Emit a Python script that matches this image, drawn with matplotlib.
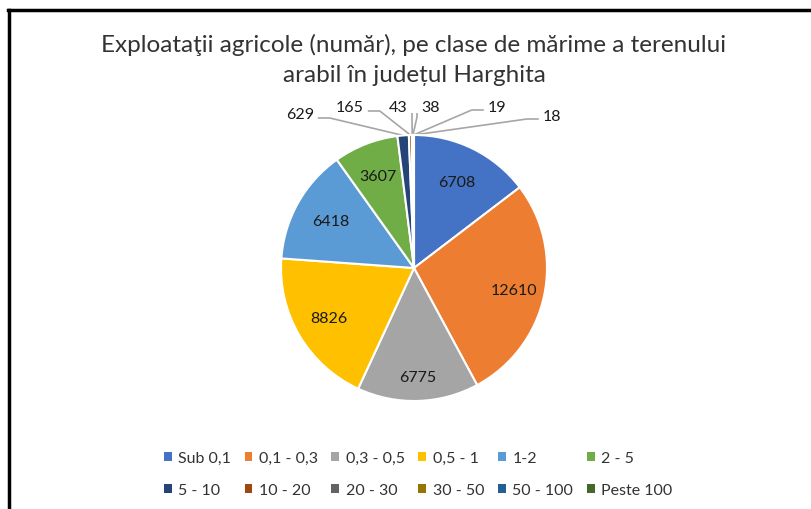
import numpy as np
import matplotlib
matplotlib.use("Agg")
import matplotlib.pyplot as plt
from matplotlib.patches import Patch
from matplotlib.lines import Line2D

plt.rcParams['font.family'] = ['Lato', 'DejaVu Sans']

categories = ["Sub 0,1", "0,1 - 0,3", "0,3 - 0,5", "0,5 - 1", "1-2", "2 - 5",
              "5 - 10", "10 - 20", "20 - 30", "30 - 50", "50 - 100", "Peste 100"]
values = [6708, 12610, 6775, 8826, 6418, 3607, 629, 165, 43, 38, 19, 18]
colors = ["#4472C4", "#ED7D31", "#A5A5A5", "#FFC000", "#5B9BD5", "#70AD47",
          "#264478", "#9E480E", "#636363", "#997300", "#255E91", "#43682B"]
title_lines = ["Exploataţii agricole (număr), pe clase de mărime a terenului",
               "arabil în județul Harghita"]

W, H = 811, 510
fig = plt.figure(figsize=(W / 100, H / 100), dpi=100)
ax = fig.add_axes([0, 0, 1, 1])

cx, cy, R = 414, H - 269, 133

wedges, _ = ax.pie(values, colors=colors, startangle=90, counterclock=False,
                   center=(cx, cy), radius=R, frame=True,
                   wedgeprops=dict(edgecolor='white', linewidth=1.5))
ax.set_xlim(0, W)
ax.set_ylim(0, H)
ax.set_aspect('equal')
ax.axis('off')

total = float(sum(values))
cum = np.cumsum(values) - np.array(values) / 2.0
mid_angles = np.deg2rad(90 - 360 * cum / total)

# inner labels
inner_dist = [0.72, 0.77, 0.82, 0.74, 0.72, 0.74]
for i in range(6):
    a = mid_angles[i]
    d = inner_dist[i] * R
    ax.text(cx + d * np.cos(a), cy + d * np.sin(a), str(values[i]),
            ha='center', va='center', fontsize=11.5, color='#1a1a1a')

# outer labels: (x, y) in image pixel coordinates, and leader style
outer_pos = {6: (300, 115, 'L'), 7: (350, 108, 'L'), 8: (398, 108, 'D'),
             9: (431, 108, 'D'), 10: (497, 108, 'R'), 11: (552, 117, 'R')}
for i, (tx, ty, style) in outer_pos.items():
    ty_m = H - ty
    ax.text(tx, ty_m, str(values[i]), ha='center', va='center',
            fontsize=11.5, color='#1a1a1a')
    a = mid_angles[i]
    ex, ey = cx + R * np.cos(a), cy + R * np.sin(a)
    hw = 4.6 * len(str(values[i]))
    if style == 'L':
        p0 = (tx + hw + 4, ty_m - 4)
        p1 = (p0[0] + 12, p0[1])
        xs, ys = [p0[0], p1[0], ex], [p0[1], p1[1], ey]
    elif style == 'R':
        p0 = (tx - hw - 4, ty_m - 3)
        p1 = (p0[0] - 12, p0[1])
        xs, ys = [p0[0], p1[0], ex], [p0[1], p1[1], ey]
    else:
        if i == 8:
            p0 = (tx + 14, ty_m - 6)
        else:
            p0 = (tx - 14, ty_m - 6)
        xs, ys = [p0[0], p0[0], ex], [p0[1], p0[1] - 4, ey]
    ax.plot(xs, ys, color='#A6A6A6', lw=1.2, solid_capstyle='butt', zorder=0.5)

# title
fig.text(414 / W, 1 - 45 / H, title_lines[0], ha='center', va='center',
         fontsize=17.5, color='#333333')
fig.text(414 / W, 1 - 76 / H, title_lines[1], ha='center', va='center',
         fontsize=17.5, color='#333333')

# border (top and left)
ax.add_line(Line2D([8, W], [H - 10.5, H - 10.5], color='black', lw=2.5))
ax.add_line(Line2D([8.5, 8.5], [0, H - 10.5], color='black', lw=2.5))

# legend: row-major order for 2 rows x 6 columns
order = [0, 6, 1, 7, 2, 8, 3, 9, 4, 10, 5, 11]
handles = [Patch(facecolor=colors[k], edgecolor='none') for k in order]
labels = [categories[k] for k in order]
leg = fig.legend(handles, labels, ncol=6, loc='center',
                 bbox_to_anchor=(418 / W, 1 - 475 / H), frameon=False,
                 fontsize=11.5, handlelength=0.5, handleheight=0.5,
                 handletextpad=0.4, columnspacing=0.85, labelspacing=1.1)
for txt in leg.get_texts():
    txt.set_color('#333333')

fig.savefig("out.png", dpi=100)
